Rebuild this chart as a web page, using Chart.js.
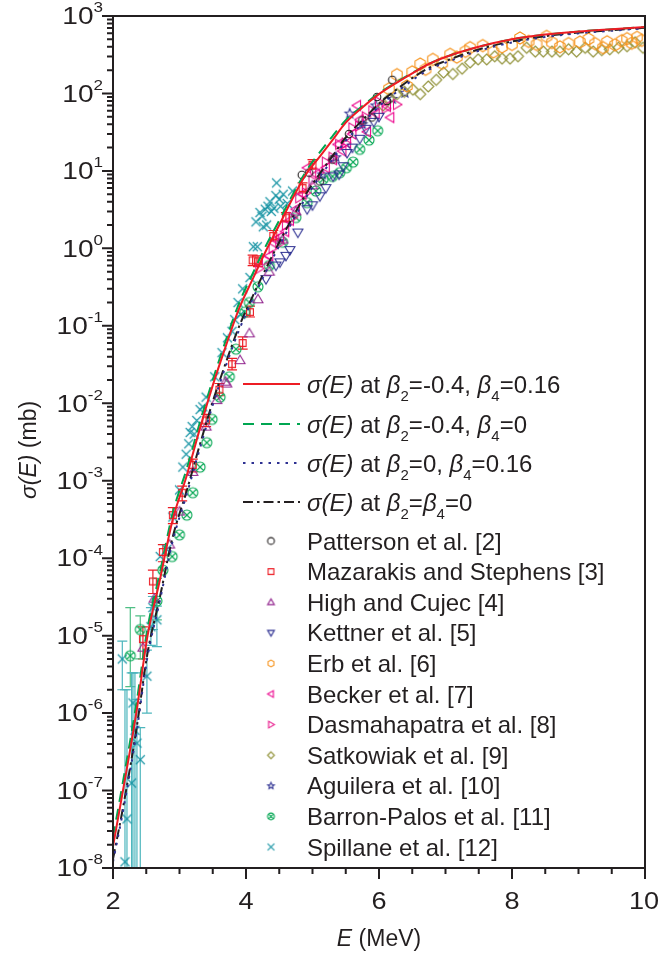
<!DOCTYPE html>
<html>
<head>
<meta charset="utf-8">
<script src="https://cdn.jsdelivr.net/npm/chart.js@4.4.1/dist/chart.umd.min.js"></script>
<style>
  html, body { margin: 0; padding: 0; background: #fff; }
  #wrap { width: 659px; height: 953px; }
</style>
</head>
<body>
<div id="wrap"><canvas id="chart" width="659" height="953"></canvas></div>
<script>
// ---- theory curves (E in MeV, sigma in mb) ----
const curveE  = [2.0, 2.15, 2.35, 2.52, 2.7, 2.9, 3.1, 3.3, 3.5, 3.7, 3.9, 4.1, 4.3, 4.5, 4.7, 4.9, 5.1, 5.3, 5.5, 5.75, 6.0, 6.25, 6.5, 6.75, 7.0, 7.5, 8.0, 8.5, 9.0, 9.5, 10.0];
const sigRed   = [1.9e-8, 1.0e-7, 1.0e-6, 1.0e-5, 5.0e-5, 3.2e-4, 1.1e-3, 4.5e-3, 1.7e-2, 5.6e-2, 0.17, 0.40, 0.93, 2.0, 4.4, 9.0, 15, 25, 42, 66, 98, 135, 182, 240, 295, 400, 500, 575, 630, 675, 720];
const sigGreen = [2.5e-8, 1.3e-7, 1.3e-6, 1.25e-5, 6.2e-5, 3.9e-4, 1.35e-3, 5.4e-3, 2.0e-2, 6.6e-2, 0.20, 0.47, 1.08, 2.3, 4.9, 9.8, 17, 28, 45, 69, 101, 138, 184, 240, 295, 400, 500, 575, 630, 675, 720];
const sigBlue  = [1.2e-8, 5.4e-8, 5.4e-7, 5.4e-6, 2.7e-5, 1.7e-4, 6.3e-4, 2.5e-3, 9.5e-3, 3.1e-2, 0.09, 0.22, 0.50, 1.08, 2.25, 4.5, 8.2, 14, 24.5, 41, 68, 102, 148, 203, 250, 355, 455, 535, 598, 645, 695];
const sigBlack = [1.3e-8, 6.0e-8, 6.0e-7, 6.0e-6, 3.0e-5, 1.9e-4, 7.0e-4, 2.8e-3, 1.05e-2, 3.4e-2, 0.10, 0.24, 0.55, 1.2, 2.5, 5.0, 9.0, 15.5, 27, 45, 74, 110, 158, 214, 262, 370, 470, 550, 610, 655, 705];

// ---- experimental data ----
const pattE = [4.84, 4.95, 5.11, 5.3, 5.55, 5.75, 5.89, 5.97, 6.12, 6.2];
const pattS = [8.9, 9.5, 7.3, 14, 30, 45, 49, 90, 80, 150];

const mazE  = [2.45, 2.6, 2.75, 2.9, 3.04, 3.2, 3.4, 3.6, 3.79, 3.95, 4.06, 4.1, 4.18, 4.41, 4.6, 4.85, 5.0];
const mazS  = [9e-6, 5e-5, 1.2e-4, 3.6e-4, 7e-4, 1.6e-3, 6e-3, 1.5e-2, 3.2e-2, 6e-2, 0.15, 0.7, 0.68, 1.45, 2.5, 6, 12];
const mazLo = [5e-6, 3.5e-5, 9e-5, 2.8e-4, 5.5e-4, 1.3e-3, 5e-3, 1.25e-2, 2.7e-2, 5e-2, 0.13, 0.6, 0.58, 1.25, 2.2, 5.2, 10.5];
const mazHi = [1.3e-5, 7e-5, 1.5e-4, 4.5e-4, 8.5e-4, 1.9e-3, 7.2e-3, 1.8e-2, 3.8e-2, 7.2e-2, 0.18, 0.82, 0.8, 1.7, 2.9, 7, 14];

const highE = [2.45, 2.62, 2.85, 3.0, 3.2, 3.4, 3.56, 3.69, 3.71, 3.91, 4.05, 4.18, 4.35, 4.55, 4.75, 5.0];
const highS = [7e-6, 3e-5, 1.5e-4, 4e-4, 1.3e-3, 5e-3, 1.1e-2, 1.9e-2, 1.8e-2, 3.6e-2, 8e-2, 0.22, 0.5, 1.3, 3, 6.5];

const kettE = [4.3, 4.45, 4.51, 4.6, 4.66, 4.78, 4.92, 5.0, 5.11, 5.2, 5.31, 5.4, 5.46, 5.52, 5.6, 5.71, 5.8, 5.92, 6.0];
const kettS = [0.4, 0.6, 0.66, 0.8, 0.95, 1.6, 3.2, 3.6, 4.7, 6, 8.5, 9, 11.5, 17, 20, 26, 35, 43, 50];

const erbE = [6.15, 6.27, 6.42, 6.5, 6.62, 6.7, 6.81, 6.95, 7.07, 7.17, 7.3, 7.37, 7.56, 7.72, 7.85, 8.0, 8.12, 8.25, 8.37, 8.52, 8.6, 8.72, 8.85, 9.02, 9.15, 9.25, 9.37, 9.43, 9.55, 9.65, 9.73, 9.8, 9.88, 9.95];
const erbS = [115, 175, 125, 190, 240, 205, 275, 245, 320, 295, 350, 390, 415, 345, 400, 430, 520, 470, 430, 545, 455, 400, 440, 460, 505, 440, 390, 465, 425, 480, 510, 445, 530, 485];

const beckE = [4.35, 4.44, 4.51, 4.59, 4.66, 4.75, 4.85, 4.92, 5.05, 5.2, 5.31, 5.38, 5.45, 5.52, 5.6, 5.67, 5.71, 5.82, 5.95, 6.12, 6.17];
const beckS = [0.8, 1.3, 1.4, 1.65, 2.3, 3.2, 5, 11, 9, 11, 14, 22, 18, 23, 30, 70, 46, 32, 55, 68, 49];

const dasE = [4.2, 4.3, 4.4, 4.5, 4.6, 4.7, 4.8, 4.9, 5.0, 5.1, 5.2, 5.3, 5.4, 5.5, 5.6, 5.7, 5.8, 5.9, 6.0, 6.1, 6.27];
const dasS = [0.55, 0.7, 1.0, 1.15, 2.0, 2.5, 4.5, 5.2, 7.5, 9.5, 13, 15, 22, 23, 36, 38, 50, 60, 78, 64, 72];

const satE = [6.06, 6.15, 6.27, 6.38, 6.51, 6.62, 6.74, 6.86, 6.97, 7.11, 7.25, 7.37, 7.49, 7.62, 7.74, 7.85, 7.97, 8.09, 8.22, 8.35, 8.47, 8.6, 8.72, 8.85, 8.97, 9.10, 9.22, 9.35, 9.47, 9.6, 9.73, 9.85, 9.97];
const satS = [70, 85, 98, 105, 112, 98, 123, 150, 186, 178, 209, 251, 275, 275, 302, 282, 282, 302, 389, 347, 347, 347, 347, 372, 347, 389, 347, 363, 372, 389, 407, 457, 389];

const aguE = [5.15, 5.35, 5.56, 5.75, 5.95, 6.2, 6.39];
const aguS = [9, 15, 55, 40, 70, 85, 102];

const barE = [2.26, 2.41, 2.66, 2.75, 2.89, 3.0, 3.11, 3.2, 3.31, 3.41, 3.49, 3.61, 3.75, 3.85, 3.98, 4.05, 4.18, 4.35, 4.55, 4.75, 4.92, 5.05, 5.16, 5.3, 5.41, 5.51, 5.61, 5.71, 5.85, 5.98];
const barS = [5.5e-6, 1.2e-5, 2.8e-5, 7e-5, 1.05e-4, 2e-4, 3.6e-4, 7e-4, 1.5e-3, 3.1e-3, 6.2e-3, 1.2e-2, 2.2e-2, 5e-2, 0.15, 0.2, 0.32, 0.6, 1.2, 2.5, 3.9, 5.5, 7.8, 8.5, 9.5, 11, 13, 19, 25, 33];
const barErrE  = [2.26, 2.41, 2.66];
const barErrLo = [2.2e-6, 5e-6, 1.6e-5];
const barErrHi = [2.3e-5, 1.8e-5, 5.5e-5];

const spiE = [2.14, 2.18, 2.21, 2.28, 2.30, 2.33, 2.36, 2.41, 2.51, 2.57, 2.6, 2.66, 2.71, 2.81, 2.9, 3.0, 3.05, 3.1, 3.14, 3.16, 3.19, 3.22, 3.26, 3.31, 3.35, 3.4, 3.53, 3.64, 3.72, 3.79, 3.83, 3.88, 3.92, 3.95, 4.06, 4.11, 4.15, 4.17, 4.21, 4.24, 4.26, 4.29, 4.31, 4.33, 4.36, 4.38, 4.42, 4.45, 4.46, 4.5, 4.52, 4.56, 4.62, 4.7];
const spiS = [5e-6, 1.2e-8, 4.3e-8, 1.25e-7, 1.35e-6, 6e-7, 4.1e-7, 2.5e-7, 3e-6, 1.3e-5, 2.3e-5, 1.6e-5, 1.05e-4, 1.3e-4, 3.4e-4, 7.6e-4, 1.5e-3, 2.2e-3, 3.0e-3, 4.2e-3, 5e-3, 4e-3, 6e-3, 8.3e-3, 9e-3, 1.2e-2, 2.2e-2, 4.5e-2, 7e-2, 8.5e-2, 0.12, 0.2, 0.14, 0.3, 0.42, 1.05, 2.2, 1.05, 2.9, 2.6, 1.9, 3.2, 2.0, 3.5, 4, 3.0, 3.3, 4.8, 7, 4.3, 3.5, 5, 3.8, 5.5];
const spiErrE  = [2.14, 2.18, 2.21, 2.28, 2.30, 2.33, 2.36, 2.41, 2.51, 2.57, 2.6, 2.66];
const spiErrLo = [2.0e-6, 1e-9, 1e-9, 1e-9, 1e-9, 1e-9, 1e-9, 1e-9, 1.0e-6, 7.5e-6, 1.2e-5, 7.2e-6];
const spiErrHi = [8.5e-6, 2.0e-6, 2.0e-6, 3.3e-6, 3.3e-6, 3.3e-6, 1.5e-6, 6.5e-7, 6.5e-6, 2.3e-5, 3.2e-5, 2.4e-5];

// ---- axis ticks ----
const xTicks = [2, 4, 6, 8, 10];
const yExps = [-8, -7, -6, -5, -4, -3, -2, -1, 0, 1, 2, 3];

const FONT = '"Liberation Sans", Arial, Helvetica, sans-serif';
const INK = '#231f20';

// marker images
function makeMarker(shape, color, r) {
  const s = Math.ceil(2 * r + 4);
  const c = document.createElement('canvas');
  c.width = s; c.height = s;
  const g = c.getContext('2d');
  g.translate(s / 2, s / 2);
  g.strokeStyle = color;
  g.lineWidth = 1.1;
  g.beginPath();
  const poly = pts => { g.moveTo(pts[0][0], pts[0][1]); pts.slice(1).forEach(p => g.lineTo(p[0], p[1])); g.closePath(); };
  if (shape === 'circle') g.arc(0, 0, r, 0, Math.PI * 2);
  if (shape === 'square') { const a = r * 0.85; g.rect(-a, -a, 2 * a, 2 * a); }
  if (shape === 'triUp') poly([[0, -r], [r, r * 0.7], [-r, r * 0.7]]);
  if (shape === 'triDown') poly([[0, r], [r, -r * 0.7], [-r, -r * 0.7]]);
  if (shape === 'triLeft') poly([[-r, 0], [r * 0.7, -r], [r * 0.7, r]]);
  if (shape === 'triRight') poly([[r, 0], [-r * 0.7, -r], [-r * 0.7, r]]);
  if (shape === 'diamond') poly([[0, -r], [r, 0], [0, r], [-r, 0]]);
  if (shape === 'hexagon') {
    const pts = [];
    for (let i = 0; i < 6; i++) { const a = Math.PI / 6 + i * Math.PI / 3; pts.push([r * Math.cos(a), r * Math.sin(a)]); }
    poly(pts);
  }
  if (shape === 'star') {
    const pts = [];
    for (let i = 0; i < 10; i++) { const a = -Math.PI / 2 + i * Math.PI / 5; const rr = i % 2 ? r * 0.45 : r; pts.push([rr * Math.cos(a), rr * Math.sin(a)]); }
    poly(pts);
  }
  if (shape === 'circX') {
    g.arc(0, 0, r, 0, Math.PI * 2);
    const a = r * 0.7;
    g.moveTo(-a, -a); g.lineTo(a, a); g.moveTo(a, -a); g.lineTo(-a, a);
  }
  if (shape === 'cross') { g.moveTo(-r, -r); g.lineTo(r, r); g.moveTo(r, -r); g.lineTo(-r, r); }
  g.stroke();
  return c;
}

const expSets = [
  { label: 'Patterson et al. [2]', E: pattE, S: pattS, shape: 'circle', color: INK, r: 3.8 },
  { label: 'Mazarakis and Stephens [3]', E: mazE, S: mazS, shape: 'square', color: '#ed1c24', r: 4, err: [mazE, mazLo, mazHi], errColor: '#ed1c24' },
  { label: 'High and Cujec [4]', E: highE, S: highS, shape: 'triUp', color: '#93278f', r: 5 },
  { label: 'Kettner et al. [5]', E: kettE, S: kettS, shape: 'triDown', color: '#2e3192', r: 5 },
  { label: 'Erb et al. [6]', E: erbE, S: erbS, shape: 'hexagon', color: '#f7941d', r: 6 },
  { label: 'Becker et al. [7]', E: beckE, S: beckS, shape: 'triLeft', color: '#ec008c', r: 5 },
  { label: 'Dasmahapatra et al. [8]', E: dasE, S: dasS, shape: 'triRight', color: '#e8168a', r: 5 },
  { label: 'Satkowiak et al. [9]', E: satE, S: satS, shape: 'diamond', color: '#8f9035', r: 5.5 },
  { label: 'Aguilera et al. [10]', E: aguE, S: aguS, shape: 'star', color: '#2e3192', r: 5 },
  { label: 'Barron-Palos et al. [11]', E: barE, S: barS, shape: 'circX', color: '#00a651', r: 5, err: [barErrE, barErrLo, barErrHi], errColor: '#4fbf85' },
  { label: 'Spillane et al. [12]', E: spiE, S: spiS, shape: 'cross', color: '#1593a3', r: 4.5, err: [spiErrE, spiErrLo, spiErrHi], errColor: '#4db6bd' }
];

const curves = [
  { S: sigRed, color: '#ed1c24', dash: [], runs: [['σ(E)', 'i'], [' at ', ''], ['β', 'i'], ['2', 'sub'], ['=-0.4, ', ''], ['β', 'i'], ['4', 'sub'], ['=0.16', '']] },
  { S: sigGreen, color: '#00a651', dash: [11, 7], runs: [['σ(E)', 'i'], [' at ', ''], ['β', 'i'], ['2', 'sub'], ['=-0.4, ', ''], ['β', 'i'], ['4', 'sub'], ['=0', '']] },
  { S: sigBlue, color: '#2e3192', dash: [2.5, 6], runs: [['σ(E)', 'i'], [' at ', ''], ['β', 'i'], ['2', 'sub'], ['=0, ', ''], ['β', 'i'], ['4', 'sub'], ['=0.16', '']] },
  { S: sigBlack, color: INK, dash: [10, 4, 2.5, 4], runs: [['σ(E)', 'i'], [' at ', ''], ['β', 'i'], ['2', 'sub'], ['=', ''], ['β', 'i'], ['4', 'sub'], ['=0', '']] }
];

const datasets = [];
curves.forEach(c => datasets.push({
  data: curveE.map((e, i) => ({ x: e, y: c.S[i] })),
  showLine: true, borderColor: c.color, borderWidth: 2, borderDash: c.dash,
  pointRadius: 0, cubicInterpolationMode: 'monotone', fill: false
}));
expSets.forEach(d => {
  d.img = makeMarker(d.shape, d.color, d.r);
  d.legendImg = makeMarker(d.shape, d.color, 3.4);
  datasets.push({
    data: d.E.map((e, i) => ({ x: e, y: d.S[i] })),
    showLine: false, pointStyle: d.img, pointRadius: d.r, borderColor: d.color,
    errBars: d.err, errColor: d.errColor
  });
});

function drawRuns(ctx, runs, x, y, size, align) {
  const fontFor = r => {
    const s = (r[1] === 'sub' || r[1] === 'sup') ? Math.round(size * 0.62) : size;
    return (r[1] === 'i' ? 'italic ' : '') + s + 'px ' + FONT;
  };
  let w = 0;
  runs.forEach(r => { ctx.font = fontFor(r); w += ctx.measureText(r[0]).width; });
  let cx = align === 'right' ? x - w : align === 'center' ? x - w / 2 : x;
  runs.forEach(r => {
    ctx.font = fontFor(r);
    const dy = r[1] === 'sub' ? size * 0.32 : r[1] === 'sup' ? -size * 0.52 : 0;
    ctx.fillText(r[0], cx, y + dy);
    cx += ctx.measureText(r[0]).width;
  });
  return w;
}

// error bars drawn under markers
const errorBars = {
  id: 'errorBars',
  beforeDatasetsDraw(chart) {
    const { ctx, chartArea: a } = chart;
    const xs = chart.scales.x, ys = chart.scales.y;
    ctx.save();
    ctx.beginPath(); ctx.rect(a.left, a.top, a.right - a.left, a.bottom - a.top); ctx.clip();
    chart.data.datasets.forEach(ds => {
      if (!ds.errBars) return;
      const [E, lo, hi] = ds.errBars;
      ctx.strokeStyle = ds.errColor; ctx.lineWidth = 1.2;
      E.forEach((e, i) => {
        const px = xs.getPixelForValue(e);
        const y1 = ys.getPixelForValue(lo[i]), y2 = ys.getPixelForValue(hi[i]);
        ctx.beginPath();
        ctx.moveTo(px, y1); ctx.lineTo(px, y2);
        ctx.moveTo(px - 5, y2); ctx.lineTo(px + 5, y2);
        ctx.moveTo(px - 5, y1); ctx.lineTo(px + 5, y1);
        ctx.stroke();
      });
    });
    ctx.restore();
  }
};

// frame, ticks, labels, titles, legend
const decorations = {
  id: 'decorations',
  afterDraw(chart) {
    const { ctx, chartArea: a } = chart;
    const xs = chart.scales.x, ys = chart.scales.y;
    ctx.save();
    ctx.strokeStyle = INK; ctx.fillStyle = INK;
    ctx.lineWidth = 2;
    ctx.strokeRect(a.left, a.top, a.right - a.left, a.bottom - a.top);

    // y ticks
    ctx.beginPath();
    yExps.forEach(e => {
      const py = ys.getPixelForValue(Math.pow(10, e));
      ctx.moveTo(a.left - 11, py); ctx.lineTo(a.left, py);
      if (e < 3) for (let k = 2; k <= 9; k++) {
        const pm = ys.getPixelForValue(k * Math.pow(10, e));
        ctx.moveTo(a.left - 6, pm); ctx.lineTo(a.left, pm);
      }
    });
    // x ticks
    for (let v = 2; v <= 10.001; v += 0.5) {
      const px = xs.getPixelForValue(v);
      const major = xTicks.includes(v);
      ctx.moveTo(px, a.bottom); ctx.lineTo(px, a.bottom + (major ? 11 : 6));
    }
    ctx.stroke();

    // tick labels (slightly wide face)
    ctx.textBaseline = 'alphabetic';
    yExps.forEach(e => {
      const py = ys.getPixelForValue(Math.pow(10, e));
      ctx.save();
      ctx.translate(a.left - 10, py + 8.3);
      ctx.scale(1.22, 1);
      drawRuns(ctx, [['10', ''], [e < 0 ? '-' + (-e) : String(e), 'sup']], 0, 0, 23, 'right');
      ctx.restore();
    });
    xTicks.forEach(v => {
      const px = xs.getPixelForValue(v);
      ctx.save();
      ctx.translate(v === 10 ? px - 1 : px, a.bottom + 41);
      ctx.scale(1.18, 1);
      drawRuns(ctx, [[String(v), '']], 0, 0, 23, 'center');
      ctx.restore();
    });

    // axis titles
    drawRuns(ctx, [['E', 'i'], [' (MeV)', '']], (a.left + a.right) / 2, 946, 23, 'center');
    ctx.save();
    ctx.translate(36, (a.top + a.bottom) / 2 + 8);
    ctx.rotate(-Math.PI / 2);
    drawRuns(ctx, [['σ(E)', 'i'], [' (mb)', '']], 0, 0, 23, 'center');
    ctx.restore();

    // legend: curves
    const lineY = [384, 424, 463, 502];
    curves.forEach((c, i) => {
      ctx.save();
      ctx.strokeStyle = c.color; ctx.lineWidth = 2; ctx.setLineDash(c.dash);
      ctx.beginPath(); ctx.moveTo(243, lineY[i]); ctx.lineTo(300, lineY[i]); ctx.stroke();
      ctx.restore();
      drawRuns(ctx, c.runs, 307, lineY[i] + 9, 24, 'left');
    });
    // legend: data sets
    expSets.forEach((d, i) => {
      const y = 541 + i * 30.6;
      ctx.drawImage(d.legendImg, 271 - d.legendImg.width / 2, y - d.legendImg.height / 2);
      drawRuns(ctx, [[d.label, '']], 307, y + 8.6, 24, 'left');
    });
    ctx.restore();
  }
};

new Chart(document.getElementById('chart'), {
  type: 'scatter',
  data: { datasets },
  options: {
    responsive: false,
    animation: false,
    layout: { padding: { top: 16, right: 14, left: 0, bottom: 0 } },
    plugins: { legend: { display: false }, tooltip: { enabled: false } },
    scales: {
      x: {
        type: 'linear', min: 2, max: 10,
        ticks: { display: false }, grid: { display: false }, border: { display: false },
        afterFit: s => { s.height = 85; }
      },
      y: {
        type: 'logarithmic', min: 1e-8, max: 1e3,
        ticks: { display: false }, grid: { display: false }, border: { display: false },
        afterFit: s => { s.width = 113; }
      }
    }
  },
  plugins: [errorBars, decorations]
});
</script>
</body>
</html>
